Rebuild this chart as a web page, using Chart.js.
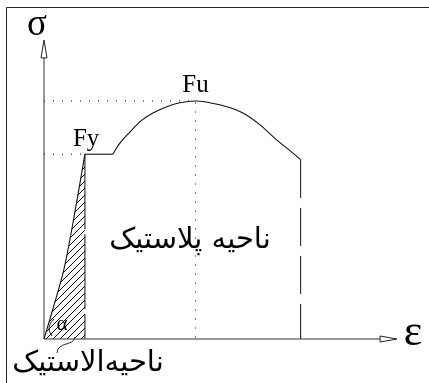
<!DOCTYPE html>
<html>
<head>
<meta charset="utf-8">
<script src="https://cdn.jsdelivr.net/npm/chart.js@4.4.1/dist/chart.umd.min.js"></script>
<style>
  html, body { margin: 0; padding: 0; background: #fff; }
  canvas { display: block; }
</style>
</head>
<body>
<canvas id="chart" width="429" height="383"></canvas>
<script>
// stress-strain diagram, arbitrary units (strain 0..100, stress 0..100)
const elasticStrain = [0, 5.4, 8.2, 11.6];
const elasticStress = [0, 22.1, 38.8, 61.8];
const plateauStrain = [11.6, 19.5];
const plateauStress = [61.8, 61.8];
const hardeningStrain = [19.5, 21.5, 24.4, 27.7, 31.0, 34.8, 38.5, 42.9, 47.0, 51.8, 56.5, 61.2, 65.9, 70.6, 72.7];
const hardeningStress = [61.8, 65.5, 69.3, 73.2, 75.7, 77.7, 79.0, 79.6, 79.0, 77.7, 75.5, 71.6, 66.6, 62.1, 59.9];
const yieldPoint = [11.6, 61.8];   // Fy
const ultimatePoint = [42.9, 79.6]; // Fu
const rupturePoint = [72.7, 59.9];
const axisEnd = [95.2, 94];
const labels = ['σ', 'ε', 'Fy', 'Fu', 'α', 'ناحیه پلاستیک', 'ناحیه\u200Cالاستیک'];

const pts = (xs, ys) => xs.map((v, i) => ({ x: v, y: ys[i] }));

const ctx = document.getElementById('chart').getContext('2d');

function hatchPattern() {
    const c = document.createElement('canvas');
    c.width = 7; c.height = 7;
    const g = c.getContext('2d');
    g.strokeStyle = '#000';
    g.lineWidth = 1;
    g.beginPath();
    g.moveTo(0, 7); g.lineTo(7, 0);
    g.moveTo(-2, 2); g.lineTo(2, -2);
    g.moveTo(5, 9); g.lineTo(9, 5);
    g.stroke();
    return ctx.createPattern(c, 'repeat');
}

const line = (data, extra) => Object.assign({
    data, showLine: true, borderColor: '#111', borderWidth: 1.1,
    pointRadius: 0, tension: 0, fill: false, clip: false
}, extra);

const decor = {
    id: 'decor',
    afterDatasetsDraw(chart) {
        const { ctx, scales: { x, y } } = chart;
        const px = v => x.getPixelForValue(v);
        const py = v => y.getPixelForValue(v);
        const ox = px(0), oy = py(0);
        ctx.save();
        ctx.strokeStyle = '#222';
        ctx.lineWidth = 1;

        // frame
        ctx.beginPath();
        ctx.moveTo(6.5, 383); ctx.lineTo(6.5, 7.5); ctx.lineTo(429, 7.5);
        ctx.stroke();

        // arrow heads
        ctx.fillStyle = '#fff';
        ctx.beginPath();
        ctx.moveTo(ox, py(100)); ctx.lineTo(ox - 3, py(axisEnd[1])); ctx.lineTo(ox + 3, py(axisEnd[1]));
        ctx.closePath(); ctx.fill(); ctx.stroke();
        ctx.beginPath();
        ctx.moveTo(px(100), oy); ctx.lineTo(px(axisEnd[0]), oy - 3); ctx.lineTo(px(axisEnd[0]), oy + 3);
        ctx.closePath(); ctx.fill(); ctx.stroke();

        // angle mark
        ctx.beginPath();
        ctx.moveTo(ox + 10, oy - 20);
        ctx.quadraticCurveTo(ox + 1, oy - 12, ox + 8, oy - 3);
        ctx.stroke();

        // brace to the elastic label
        ctx.beginPath();
        ctx.moveTo(ox + 31, oy - 2);
        ctx.bezierCurveTo(ox + 29, oy + 8, ox + 14, oy + 2, ox + 13, oy + 14);
        ctx.stroke();

        // texts
        ctx.fillStyle = '#000';
        ctx.textAlign = 'center';
        ctx.textBaseline = 'alphabetic';
        ctx.font = '37px "Liberation Serif"';
        ctx.fillText(labels[0], ox - 7, 35);
        ctx.font = '44px "Liberation Serif"';
        ctx.fillText(labels[1], px(100) + 16, oy + 6);
        ctx.font = '25px "Liberation Serif"';
        ctx.textAlign = 'left';
        ctx.fillText(labels[2], px(yieldPoint[0]) - 12, py(yieldPoint[1]) - 8.5);
        ctx.textAlign = 'center';
        ctx.fillText(labels[3], px(ultimatePoint[0]), py(ultimatePoint[1]) - 8.5);
        ctx.font = '21px "Liberation Serif"';
        ctx.fillText(labels[4], ox + 18, oy - 9);

        ctx.font = '29px "DejaVu Sans"';
        ctx.textBaseline = 'middle';
        ctx.fillText(labels[5], 190, 240);
        ctx.fillText(labels[6], 88, 363);
        ctx.restore();
    }
};

new Chart(ctx, {
    type: 'scatter',
    data: {
        datasets: [
            // axes
            line([{ x: 0, y: 0 }, { x: 0, y: axisEnd[1] }], { borderColor: '#333', borderWidth: 1 }),
            line([{ x: 0, y: 0 }, { x: axisEnd[0], y: 0 }], { borderColor: '#333', borderWidth: 1 }),
            // dotted guides
            line([{ x: 0, y: ultimatePoint[1] }, { x: ultimatePoint[0], y: ultimatePoint[1] }, { x: ultimatePoint[0], y: 0 }],
                { borderDash: [1, 8], borderWidth: 1, borderColor: '#000' }),
            line([{ x: 0, y: yieldPoint[1] }, { x: yieldPoint[0], y: yieldPoint[1] }],
                { borderDash: [1, 8], borderWidth: 1, borderColor: '#000' }),
            // elastic zone, hatched
            line(pts(elasticStrain, elasticStress), { fill: 'origin', backgroundColor: hatchPattern(), tension: 0.3 }),
            line([{ x: yieldPoint[0], y: yieldPoint[1] }, { x: yieldPoint[0], y: 0 }], { borderDash: [75, 5], borderWidth: 1 }),
            // plastic zone
            line(pts(plateauStrain, plateauStress)),
            line(pts(hardeningStrain, hardeningStress), { tension: 0.4 }),
            line([{ x: rupturePoint[0], y: rupturePoint[1] }, { x: rupturePoint[0], y: 0 }], { borderDash: [38, 10], borderWidth: 1 })
        ]
    },
    options: {
        responsive: false,
        devicePixelRatio: 1,
        animation: false,
        layout: { padding: { left: 44, right: 32, top: 40, bottom: 44 } },
        scales: {
            x: { type: 'linear', min: 0, max: 100, display: false },
            y: { type: 'linear', min: 0, max: 100, display: false }
        },
        plugins: { legend: { display: false }, tooltip: { enabled: false } }
    },
    plugins: [decor]
});
</script>
</body>
</html>
